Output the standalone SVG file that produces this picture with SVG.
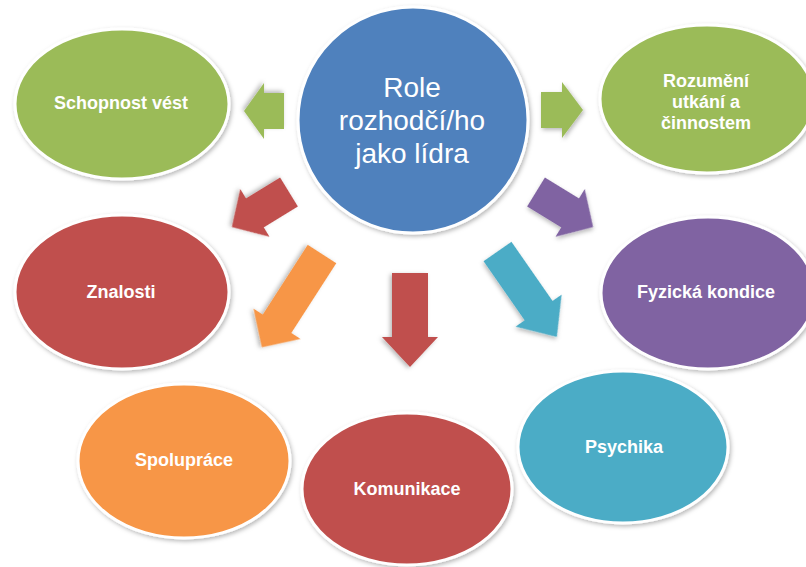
<svg xmlns="http://www.w3.org/2000/svg" width="806" height="567" viewBox="0 0 806 567">
<defs>
<filter id="sh" x="-20%" y="-20%" width="140%" height="140%">
<feDropShadow dx="1.5" dy="2" stdDeviation="2" flood-color="#000" flood-opacity="0.28"/>
</filter>
<style>
.node{stroke:#fff;stroke-width:3;filter:url(#sh)}
.lbl{font-family:"Liberation Sans",Arial,sans-serif;font-weight:bold;font-size:18px;fill:#fff;text-anchor:middle}
.ctr{font-family:"Liberation Sans",Arial,sans-serif;font-size:28px;fill:#fff;text-anchor:middle}
.arr{filter:url(#sh)}
.green{fill:#9BBB59}.blue{fill:#4F81BD}.red{fill:#C0504D}.purple{fill:#8064A2}.orange{fill:#F79646}.teal{fill:#4BACC6}
</style>
</defs>
<rect width="806" height="567" fill="#fff"/>
<g id="connectors">
<path class="arr green" transform="translate(284,111) rotate(180)" d="M0,-18 H20 V-28 L40,0 L20,28 V18 H0 Z"/>
<path class="arr green" transform="translate(541,110)" d="M0,-18 H21 V-28 L42,0 L21,28 V18 H0 Z"/>
<path class="arr red" transform="translate(289,192) rotate(148.5)" d="M0,-17 H40 V-28 L67,0 L40,28 V17 H0 Z"/>
<path class="arr purple" transform="translate(536,192) rotate(31.5)" d="M0,-17 H40 V-28 L67,0 L40,28 V17 H0 Z"/>
<path class="arr orange" transform="translate(322,254) rotate(122.8)" d="M0,-17 H83 V-28 L111,0 L83,28 V17 H0 Z"/>
<path class="arr red" transform="translate(410,273) rotate(90)" d="M0,-18 H64 V-28 L94,0 L64,28 V18 H0 Z"/>
<path class="arr teal" transform="translate(497.5,251.5) rotate(55.2)" d="M0,-17 H72 V-28 L104,0 L72,28 V17 H0 Z"/>
</g>
<g id="center">
<ellipse class="node blue" cx="413" cy="120" rx="115" ry="113"/>
<text class="ctr"><tspan x="412" y="97">Role</tspan><tspan x="412" y="130">rozhodčí/ho</tspan><tspan x="412" y="163">jako lídra</tspan></text>
</g>
<g id="schopnost">
<ellipse class="node green" cx="122" cy="104" rx="107" ry="75"/>
<text class="lbl" x="121" y="109">Schopnost vést</text>
</g>
<g id="rozumeni">
<ellipse class="node green" cx="707" cy="99" rx="107" ry="74"/>
<text class="lbl"><tspan x="706" y="86.5">Rozumění</tspan><tspan x="706" y="107.5">utkání a</tspan><tspan x="706" y="128.5">činnostem</tspan></text>
</g>
<g id="znalosti">
<ellipse class="node red" cx="122" cy="292" rx="107" ry="77"/>
<text class="lbl" x="121" y="298">Znalosti</text>
</g>
<g id="fyzicka">
<ellipse class="node purple" cx="708" cy="293" rx="107" ry="76"/>
<text class="lbl" x="706" y="298">Fyzická kondice</text>
</g>
<g id="spoluprace">
<ellipse class="node orange" cx="184" cy="461" rx="106" ry="77"/>
<text class="lbl" x="184" y="466">Spolupráce</text>
</g>
<g id="komunikace">
<ellipse class="node red" cx="407" cy="489" rx="105" ry="76"/>
<text class="lbl" x="407" y="495">Komunikace</text>
</g>
<g id="psychika">
<ellipse class="node teal" cx="623" cy="447" rx="105" ry="76"/>
<text class="lbl" x="624" y="453">Psychika</text>
</g>
</svg>
